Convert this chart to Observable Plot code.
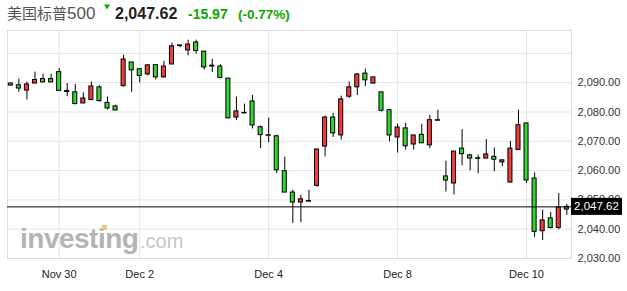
<!DOCTYPE html>
<html>
<head>
<meta charset="utf-8">
<script src="https://cdn.jsdelivr.net/npm/d3@7"></script>
<script src="https://cdn.jsdelivr.net/npm/@observablehq/plot@0.6"></script>
<style>
  html, body { margin: 0; padding: 0; background: #fff; }
  body { width: 627px; height: 291px; overflow: hidden; font-family: "Liberation Sans", Arial, sans-serif; }
  #header { display: block; }
  #chart svg { display: block; }
</style>
</head>
<body>
<svg id="header" width="627" height="29" xmlns="http://www.w3.org/2000/svg">
  <text x="7" y="19" font-family="'Noto Sans CJK SC'" font-size="15" fill="#555">美国标普</text>
  <text x="67" y="19" font-family="'Liberation Sans', Arial" font-size="17" fill="#555">500</text>
  <polygon points="104,4.5 110,4.5 107,9.5" fill="#0ea600"></polygon>
  <text x="115" y="18.5" font-family="'Liberation Sans', Arial" font-size="16" font-weight="bold" fill="#222">2,047.62</text>
  <text x="188" y="18.5" font-family="'Liberation Sans', Arial" font-size="14" font-weight="bold" fill="#0ea600">-15.97</text>
  <text x="238" y="18.5" font-family="'Liberation Sans', Arial" font-size="13.5" font-weight="bold" fill="#0ea600">(-0.77%)</text>
</svg>
<div id="chart"></div>
<script>
// ---- data ----
const opens  = [2089.7,2089.1,2087.3,2089.7,2091.2,2091.2,2093.6,2087.2,2086.7,2082.9,
                2084.1,2088.4,2083.1,2081.9,2088.8,2096.9,2094.6,2092.8,2096.0,2091.8,
                2096.2,2102.7,2101.0,2103.7,2100.6,2095.8,2095.5,2091.4,2078.1,2079.7,
                2083.6,2074.8,2072.1,2071.7,2059.8,2052.5,2049.1,2049.6,2054.8,2068.2,
                2078.1,2072.0,2085.2,2088.4,2093.1,2089.7,2086.7,2080.6,2071.3,2074.4,
                2068.9,2072.2,2068.6,2077.2,2058.0,2055.6,2067.5,2065.2,2064.2,2064.1,
                2064.7,2062.8,2055.9,2067.0,2076.1,2057.3,2039.3,2043.7,2040.4,2046.7];
const highs  = [2089.9,2091.2,2090.2,2093.6,2092.9,2092.9,2094.8,2089.7,2089.4,2086.5,
                2090.2,2088.9,2085.1,2082.3,2099.4,2096.9,2094.8,2096.2,2096.2,2097.3,
                2103.5,2102.7,2104.5,2104.5,2100.6,2098.0,2096.2,2091.4,2085.1,2082.7,
                2085.7,2075.2,2077.9,2072.1,2064.6,2053.3,2051.6,2053.3,2067.2,2078.6,
                2079.5,2085.4,2090.2,2093.1,2094.6,2091.8,2086.7,2080.9,2075.8,2076.1,
                2072.0,2075.8,2078.9,2080.6,2063.2,2066.5,2074.0,2065.6,2065.3,2070.6,
                2067.7,2063.5,2070.0,2080.6,2076.1,2059.2,2046.5,2045.7,2052.2,2048.5];
const lows   = [2088.9,2086.7,2084.1,2089.7,2090.0,2090.0,2087.2,2085.2,2082.4,2082.9,
                2083.8,2083.4,2080.7,2080.5,2088.5,2086.7,2089.9,2092.3,2090.9,2091.6,
                2096.2,2101.9,2099.1,2099.8,2094.3,2093.5,2091.3,2077.8,2077.1,2079.5,
                2074.2,2067.5,2069.5,2059.0,2052.5,2042.0,2042.2,2049.4,2054.3,2064.7,
                2071.3,2070.4,2084.6,2085.6,2088.6,2089.5,2080.0,2069.8,2066.0,2067.0,
                2067.0,2069.3,2067.5,2077.0,2052.7,2051.7,2061.6,2059.9,2058.9,2064.1,
                2059.6,2061.3,2055.9,2067.0,2055.6,2037.2,2036.1,2040.1,2039.8,2044.7];
const closes = [2089.0,2088.0,2089.4,2090.9,2090.1,2090.1,2087.2,2086.8,2082.7,2084.6,
                2088.7,2083.7,2081.2,2080.5,2097.9,2094.2,2092.3,2095.9,2091.8,2095.5,
                2102.4,2102.5,2103.0,2100.8,2095.2,2095.5,2091.6,2077.8,2080.2,2079.5,
                2075.4,2072.1,2071.9,2060.1,2052.5,2049.1,2050.2,2049.4,2067.2,2078.1,
                2072.7,2084.3,2088.4,2092.8,2090.8,2091.8,2080.4,2072.0,2074.7,2068.3,
                2072.0,2069.3,2077.2,2077.0,2056.6,2066.5,2065.6,2064.1,2064.0,2065.5,
                2063.7,2063.5,2067.5,2075.5,2056.6,2039.1,2043.0,2040.4,2047.4,2047.62];
const dayLabels = ["Nov 30", "Dec 2", "Dec 4", "Dec 8", "Dec 10"];
const dayIndex  = [6, 16, 32, 48, 64];
const yTickValues = [2030, 2040, 2050, 2060, 2070, 2080, 2090];
const yGridValues = [2030, 2040, 2050, 2060, 2070, 2080, 2090, 2100];
const lastPrice = 2047.62;

// ---- build table ----
const candles = opens.map((o, i) => ({i, open: o, high: highs[i], low: lows[i], close: closes[i]}));
const upColor = "#f03c3c", downColor = "#33d633";
const fmt = d3.format(",.2f");

const chart = Plot.plot({
  width: 627,
  height: 262,
  marginLeft: 7,
  marginRight: 56,
  marginTop: 1,
  marginBottom: 33,
  style: {fontFamily: "'Liberation Sans', Arial, sans-serif", color: "#333", background: "#fff"},
  x: {domain: [-0.41, 69.58], axis: null, label: null},
  y: {domain: [2030, 2107.8], axis: null, label: null},
  marks: [
    Plot.ruleY(yGridValues, {stroke: "#e4e4ec"}),
    Plot.ruleX(dayIndex, {stroke: "#e4e4ec"}),
    Plot.frame({stroke: "#dcdce4"}),
    Plot.axisY({anchor: "right", ticks: yTickValues, tickSize: 0, tickPadding: 6, label: null,
                tickFormat: fmt, fontSize: 11, color: "#333"}),
    Plot.axisX({ticks: dayIndex, tickSize: 0, tickPadding: 12, fontSize: 11, color: "#222", label: null,
                tickFormat: d => dayLabels[dayIndex.indexOf(d)]}),
    Plot.ruleX(candles, {x: "i", y1: "low", y2: "high", stroke: "#000", strokeWidth: 1}),
    Plot.rect(candles, {
      x1: d => d.i - 0.5, x2: d => d.i + 0.5, insetLeft: 2, insetRight: 2,
      y1: "open", y2: "close",
      fill: d => d.close >= d.open ? upColor : downColor,
      stroke: "#000", strokeWidth: 1
    }),
    Plot.ruleY([lastPrice], {stroke: "#000", strokeWidth: 1})
  ]
});

document.getElementById("chart").appendChild(chart);

// watermark, placed right after the frame (behind the candles)
const ns = "http://www.w3.org/2000/svg";
const frameEl = chart.querySelector("[aria-label='frame']");
const wmNode = document.createElementNS(ns, "g");
if (frameEl && frameEl.parentNode === chart) chart.insertBefore(wmNode, frameEl.nextSibling);
else chart.insertBefore(wmNode, chart.firstChild ? chart.firstChild.nextSibling : null);
const wmLayer = d3.select(wmNode).attr("text-anchor", "start");
wmLayer.append("text").attr("x", 20).attr("y", 219).attr("text-anchor", "start")
  .attr("font-family", "'Liberation Sans', Arial").attr("font-size", 28).attr("font-weight", "bold")
  .attr("letter-spacing", -0.5).attr("fill", "#b4b4b4").text("investing");
wmLayer.append("text").attr("x", 140).attr("y", 219).attr("text-anchor", "start")
  .attr("font-family", "'Liberation Sans', Arial").attr("font-size", 20)
  .attr("fill", "#c6c6c6").text(".com");
wmLayer.append("rect").attr("x", 102).attr("y", 196).attr("width", 5).attr("height", 5)
  .attr("fill", "#f6c28a");

// last-price tag on the right axis
const svg = d3.select(chart);
const yPos = chart.scale("y").apply(lastPrice);
svg.append("rect").attr("x", 571).attr("y", yPos - 8.5).attr("width", 51).attr("height", 17).attr("fill", "#000");
svg.append("text").attr("x", 596.5).attr("y", yPos + 4).attr("text-anchor", "middle")
  .attr("font-family", "'Liberation Sans', Arial").attr("font-size", 11.5).attr("fill", "#fff")
  .text(fmt(lastPrice));
</script>
</body>
</html>
